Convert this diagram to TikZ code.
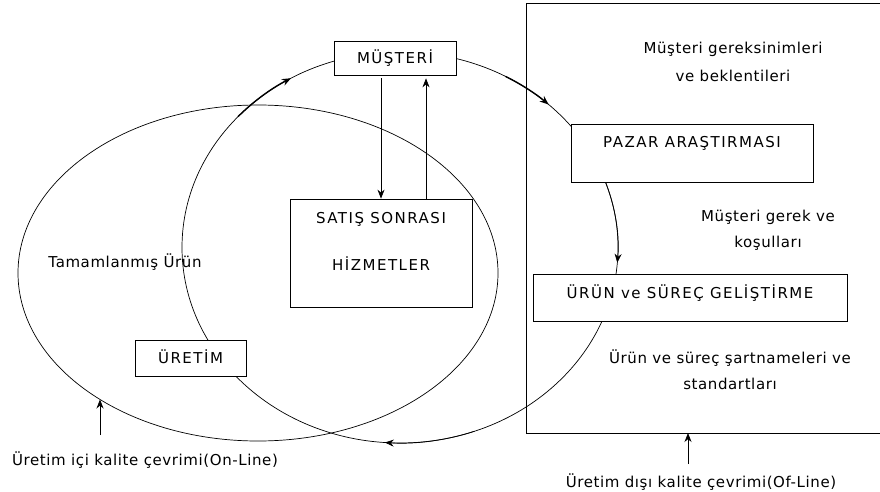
\documentclass[tikz,border=0pt]{standalone}
\usepackage{fontspec}
\setmainfont{DejaVu Sans}[LetterSpace=4.0]
\newfontfamily\kutufont{DejaVu Sans}[LetterSpace=10.0]
\usepackage{tikz}
\usetikzlibrary{arrows.meta}

\begin{document}
\begin{tikzpicture}[x=1pt, y=-1pt, line width=0.7pt,
  kutu/.style={draw, fill=white, inner sep=0pt, text height=11pt, text depth=0pt,
    font=\kutufont\fontsize{15}{18}\selectfont},
  yazi/.style={align=center, font=\fontsize{15}{18}\selectfont},
  ok/.style={-{Stealth[length=9pt, width=7pt]}},
  kalinok/.style={ok, line width=1.4pt}]
\useasboundingbox (0,0) rectangle (880,492);
\coordinate (ic) at (258,273);
\coordinate (dis) at (400,247.5);
\draw (ic) ellipse [x radius=240, y radius=168];
\draw (dis) ellipse [x radius=218, y radius=195.5];
\draw (884,3) -- (526,3) -- (526,433) -- (884,433);
\coordinate (disalt) at (688,433);
\coordinate (icnokta) at (100,399.5);

\draw[kalinok] (dis) ++(-138:218 and 195.5) arc [start angle=-138, end angle=-120, x radius=218, y radius=195.5];
\draw[kalinok] (dis) ++(-61:218 and 195.5) arc [start angle=-61, end angle=-47, x radius=218, y radius=195.5];
\draw[ok] (dis) ++(-20:218 and 195.5) arc [start angle=-20, end angle=4.5, x radius=218, y radius=195.5];
\draw[ok] (dis) ++(70:218 and 195.5) arc [start angle=70, end angle=94, x radius=218, y radius=195.5];

\node[kutu, minimum width=122, minimum height=34] (musteri) at (395,58) {MÜŞTERİ};
\node[kutu, minimum width=182, minimum height=108, align=center, text height=58pt, text depth=23pt] (satis) at (381,253) {SATIŞ SONRASI\\[29pt]HİZMETLER};
\node[kutu, minimum width=242, minimum height=58, text depth=22pt] (pazar) at (692,153) {PAZAR ARAŞTIRMASI};
\node[kutu, minimum width=314, minimum height=47, text depth=9pt] (urun) at (690,297.5) {ÜRÜN ve SÜREÇ GELİŞTİRME};
\node[kutu, minimum width=111, minimum height=36] (uretim) at (190.5,358) {ÜRETİM};

\draw[ok, shorten <=3pt] (musteri.south -| satis.north) -- (satis.north);
\draw[ok, shorten >=3pt] ([xshift=45pt]satis.north) -- ([xshift=45pt]satis.north |- musteri.south);

\node[yazi] (gereksinim) at (733,62) {Müşteri gereksinimleri\\[10pt]ve beklentileri};
\node[yazi] (gerek) at (768,230) {Müşteri gerek ve\\[8pt]koşulları};
\node[yazi] (sartname) at (730,370) {Ürün ve süreç şartnameleri ve\\[8pt]standartları};
\node[yazi] (tamam) at (125,262) {Tamamlanmış Ürün};
\node[yazi] (online) at (145,460) {Üretim içi kalite çevrimi(On-Line)};
\node[yazi] (offline) at (701,482) {Üretim dışı kalite çevrimi(Of-Line)};

\draw[ok] ([yshift=13pt]online.north -| icnokta) -- (icnokta);
\draw[ok] ([yshift=6pt]offline.north -| disalt) -- (disalt);
\end{tikzpicture}
\end{document}
